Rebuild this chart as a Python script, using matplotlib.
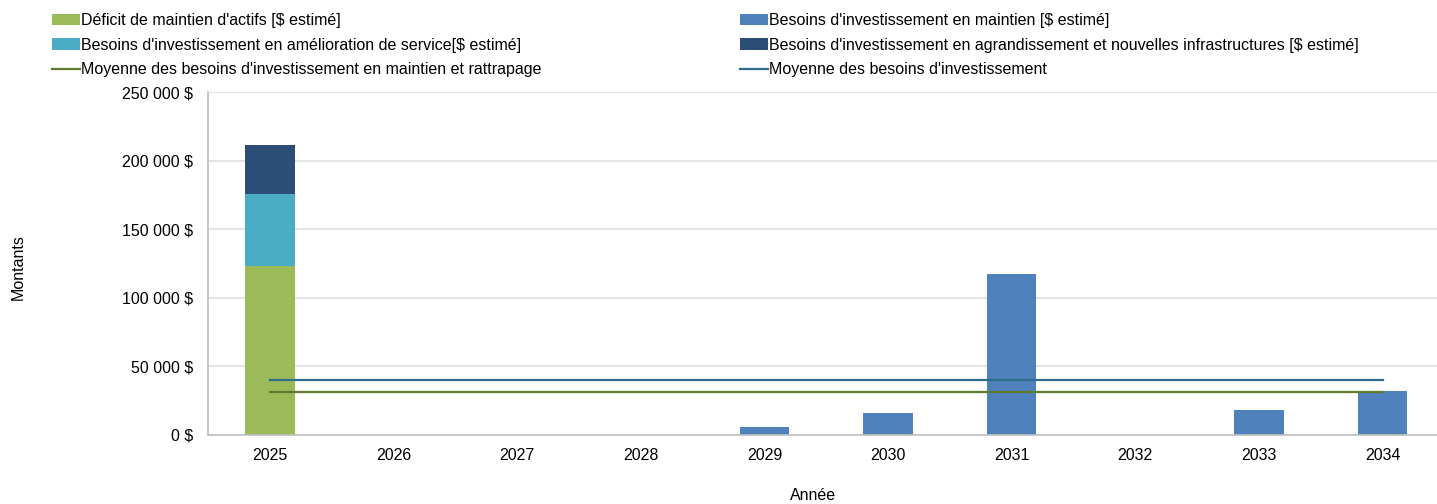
import matplotlib
matplotlib.use("Agg")
import matplotlib.pyplot as plt
import numpy as np

# Données
annees = ["2025", "2026", "2027", "2028", "2029", "2030", "2031", "2032", "2033", "2034"]
deficit_maintien = [123000, 0, 0, 0, 0, 0, 0, 0, 0, 0]
besoins_maintien = [0, 0, 0, 0, 6000, 15800, 117600, 0, 18400, 31900]
besoins_amelioration = [52600, 0, 0, 0, 0, 0, 0, 0, 0, 0]
besoins_agrandissement = [35800, 0, 0, 0, 0, 0, 0, 0, 0, 0]
moyenne_maintien_rattrapage = [31300] * 10
moyenne_besoins = [40300] * 10

plt.rcParams["font.family"] = ["Liberation Sans", "DejaVu Sans"]
plt.rcParams["font.size"] = 11.5

fig = plt.figure(figsize=(14.37, 5.04), dpi=100)
ax = fig.add_axes([208 / 1437, 1 - 435 / 504, 1 - 208 / 1437, (435 - 92) / 504])

x = np.arange(len(annees))
w = 0.4
bas1 = np.array(deficit_maintien) + np.array(besoins_maintien)
bas2 = bas1 + np.array(besoins_amelioration)

b1 = ax.bar(x, deficit_maintien, w, color="#9BBB59", zorder=2)
b2 = ax.bar(x, besoins_maintien, w, bottom=deficit_maintien, color="#4F81BD", zorder=2)
b3 = ax.bar(x, besoins_amelioration, w, bottom=bas1, color="#4BACC6", zorder=2)
b4 = ax.bar(x, besoins_agrandissement, w, bottom=bas2, color="#2C4D75", zorder=2)
l1, = ax.plot(x, moyenne_maintien_rattrapage, color="#5F7A2A", lw=1.6, zorder=3)
l2, = ax.plot(x, moyenne_besoins, color="#2E6E8A", lw=1.6, zorder=3)

ax.set_xlim(-0.5, 9.44)
ax.set_ylim(0, 250000)
ax.set_yticks(np.arange(0, 250001, 50000))
ax.set_yticklabels([f"{v:,} $".replace(",", " ") for v in range(0, 250001, 50000)])
ax.set_xticks(x)
ax.set_xticklabels(annees)
ax.tick_params(length=0)
ax.tick_params(axis="y", pad=10.5)
ax.tick_params(axis="x", pad=9)
ax.grid(axis="y", color="#E4E4E4", lw=1.5, zorder=0)
for s in ["top", "right"]:
    ax.spines[s].set_visible(False)
for s in ["left", "bottom"]:
    ax.spines[s].set_color("#BFBFBF")
    ax.spines[s].set_linewidth(1.2)

fig.text(18 / 1437, 1 - 267 / 504, "Montants", rotation=90, ha="center", va="center")
fig.text(813 / 1437, 1 - 496 / 504, "Année", ha="center", va="center")

opts = dict(frameon=False, handlelength=1.75, handletextpad=0.05, labelspacing=0.6,
            borderaxespad=0, borderpad=0, loc="upper left")
fig.legend([b1, b3, l1],
           ["Déficit de maintien d'actifs [$ estimé]",
            "Besoins d'investissement en amélioration de service[$ estimé]",
            "Moyenne des besoins d'investissement en maintien et rattrapage"],
           bbox_to_anchor=(52 / 1437, 1 - 13 / 504), **opts)
fig.legend([b2, b4, l2],
           ["Besoins d'investissement en maintien [$ estimé]",
            "Besoins d'investissement en agrandissement et nouvelles infrastructures [$ estimé]",
            "Moyenne des besoins d'investissement"],
           bbox_to_anchor=(740 / 1437, 1 - 13 / 504), **opts)

fig.savefig("out.png", dpi=100)
